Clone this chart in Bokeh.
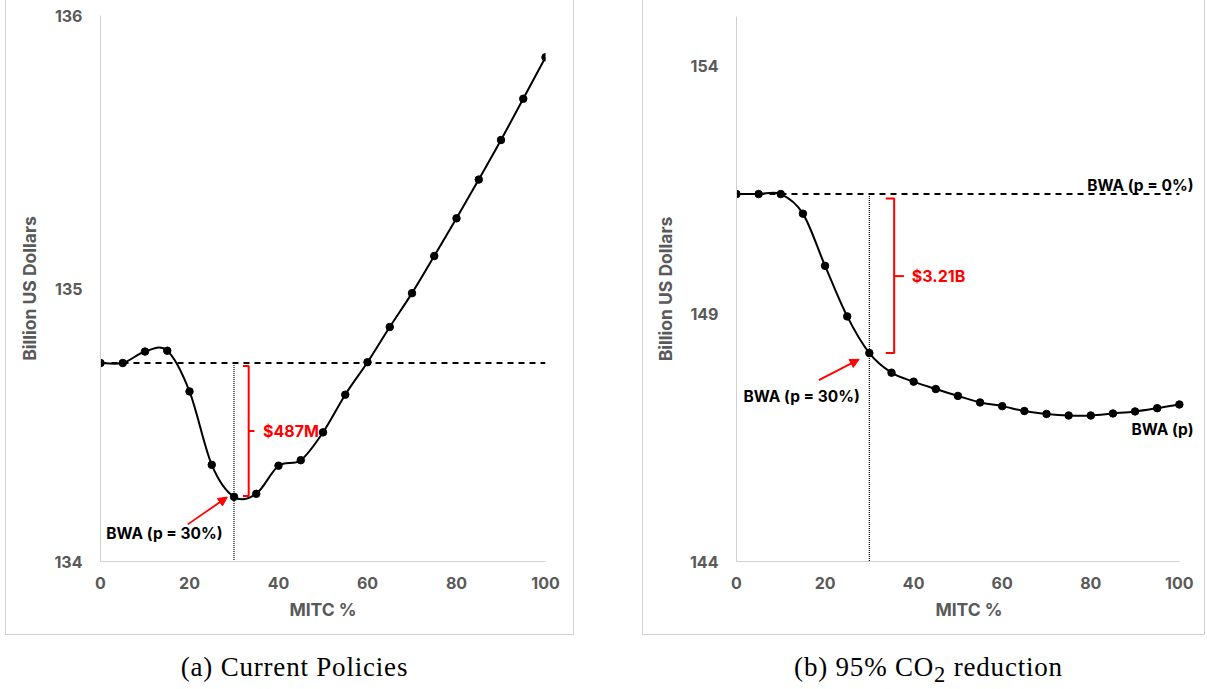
import numpy as np
from bokeh.plotting import figure
from bokeh.models import Label, Arrow, NormalHead, Div, Range1d
from bokeh.layouts import row, column
from bokeh.embed import file_html
from bokeh.resources import INLINE

# ---------------- data ----------------
mitc = [0, 5, 10, 15, 20, 25, 30, 35, 40, 45, 50, 55, 60, 65, 70, 75, 80, 85, 90, 95, 100]
cost_current = [134.727, 134.727, 134.769, 134.772, 134.623, 134.354, 134.237, 134.248, 134.351,
                134.371, 134.473, 134.611, 134.730, 134.859, 134.983, 135.119, 135.257, 135.399,
                135.544, 135.695, 135.847]
cost_95 = [151.416, 151.416, 151.416, 151.021, 149.967, 148.947, 148.206, 147.811, 147.630,
           147.481, 147.342, 147.210, 147.136, 147.037, 146.979, 146.947, 146.947, 146.988,
           147.029, 147.095, 147.169]
x_ticks = [0, 20, 40, 60, 80, 100]
y_ticks_a = [134, 135, 136]
y_ticks_b = [144, 149, 154]
p_star = 30
label_a = "$487M"
label_b = "$3.21B"

FONT = "Inter"
GRAY = "#595959"
RED = "#ff0000"


def smooth_segments(x, y):
    X = np.asarray(x, float)
    Y = np.asarray(y, float)
    xp = np.concatenate([[X[0]], X, [X[-1]]])
    yp = np.concatenate([[Y[0]], Y, [Y[-1]]])
    n = len(X)
    d = dict(x0=[], y0=[], x1=[], y1=[], cx0=[], cy0=[], cx1=[], cy1=[])
    for i in range(n - 1):
        k = i + 1
        d["x0"].append(xp[k]); d["y0"].append(yp[k])
        d["x1"].append(xp[k + 1]); d["y1"].append(yp[k + 1])
        d["cx0"].append(xp[k] + (xp[k + 1] - xp[k - 1]) / 6.0)
        d["cy0"].append(yp[k] + (yp[k + 1] - yp[k - 1]) / 6.0)
        d["cx1"].append(xp[k + 1] - (xp[k + 2] - xp[k]) / 6.0)
        d["cy1"].append(yp[k + 1] - (yp[k + 2] - yp[k]) / 6.0)
    return d


def make_panel(width, height, xr, yr, yticks, left, right, top, bottom):
    p = figure(width=width, height=height, output_backend="svg", toolbar_location=None,
               x_range=Range1d(*xr), y_range=Range1d(*yr),
               min_border_left=left, min_border_right=right,
               min_border_top=top, min_border_bottom=bottom,
               styles={"border": "1px solid #d0d0d0"})
    p.outline_line_color = None
    p.grid.visible = False
    p.xaxis.ticker = x_ticks
    p.xaxis.bounds = (mitc[0], mitc[-1])
    p.yaxis.ticker = yticks
    for ax in (p.xaxis, p.yaxis):
        ax.axis_line_color = "#d0d0d0"
        ax.axis_line_width = 1
        ax.major_tick_line_color = None
        ax.minor_tick_line_color = None
        ax.major_tick_out = 0
        ax.major_label_text_font = FONT
        ax.major_label_text_font_style = "bold"
        ax.major_label_text_font_size = "16px"
        ax.major_label_text_color = GRAY
        ax.axis_label_text_font = FONT
        ax.axis_label_text_font_style = "bold"
        ax.axis_label_text_font_size = "17.5px"
        ax.axis_label_text_color = GRAY
    p.xaxis.axis_label = "MITC %"
    p.yaxis.axis_label = "Billion US Dollars"
    p.xaxis.major_label_standoff = 15
    p.xaxis.axis_label_standoff = 7
    p.yaxis.major_label_standoff = 18
    p.yaxis.axis_label_standoff = 11
    return p


def draw_series(p, y, ymin):
    base = y[0]
    i30 = mitc.index(p_star)
    p.line([mitc[0], mitc[-1]], [base, base], line_color="black", line_width=2, line_dash="6 5")
    p.line([p_star, p_star], [base, ymin], line_color="black", line_width=1.2, line_dash="1 1")
    p.bezier(line_color="black", line_width=2, **smooth_segments(mitc, y))
    p.scatter(mitc, y, size=7.5, color="black")
    return base, y[i30]


# ---------------- panel (a) ----------------
pa = make_panel(569, 637, (0, 100), (134, 136), y_ticks_a, 94, 30, 16, 75)
base_a, v_a = draw_series(pa, cost_current, 134)
bx, bl, br = 33.3, 32.0, 34.6
top_a, bot_a = base_a - 0.011, v_a + 0.003
mid_a = (top_a + bot_a) / 2
pa.multi_line([[bl, bx, bx, bl], [bx, br]], [[top_a, top_a, bot_a, bot_a], [mid_a, mid_a]],
              line_color=RED, line_width=2)
pa.add_layout(Label(x=36.5, y=mid_a, text=label_a, text_color=RED, text_font=FONT,
                    text_font_style="bold", text_font_size="16px", text_baseline="middle"))
pa.add_layout(Arrow(end=NormalHead(size=9, fill_color=RED, line_color=RED),
                    x_start=19.6, y_start=134.136, x_end=28.5, y_end=134.236,
                    line_color=RED, line_width=1.8))
pa.add_layout(Label(x=1.3, y=134.104, text="BWA (p = 30%)", text_color="black", text_font=FONT,
                    text_font_style="bold", text_font_size="15.5px", text_baseline="middle"))

# ---------------- panel (b) ----------------
pb = make_panel(563, 637, (0, 105), (144, 155), y_ticks_b, 93, 5, 17, 75)
base_b, v_b = draw_series(pb, cost_95, 144)
bx, bl, br = 35.6, 33.7, 37.8
top_b, bot_b = base_b - 0.09, v_b + 0.0
mid_b = 149.76
pb.multi_line([[bl, bx, bx, bl], [bx, br]], [[top_b, top_b, bot_b, bot_b], [mid_b, mid_b]],
              line_color=RED, line_width=2)
pb.add_layout(Label(x=39.6, y=mid_b, text=label_b, text_color=RED, text_font=FONT,
                    text_font_style="bold", text_font_size="16px", text_baseline="middle"))
pb.add_layout(Arrow(end=NormalHead(size=9, fill_color=RED, line_color=RED),
                    x_start=18.6, y_start=147.66, x_end=27.7, y_end=148.08,
                    line_color=RED, line_width=1.8))
pb.add_layout(Label(x=1.6, y=147.33, text="BWA (p = 30%)", text_color="black", text_font=FONT,
                    text_font_style="bold", text_font_size="15.5px", text_baseline="middle"))
pb.add_layout(Label(x=103.2, y=151.59, text="BWA (p = 0%)", text_color="black", text_font=FONT,
                    text_font_style="bold", text_font_size="15.5px", text_baseline="middle",
                    text_align="right"))
pb.add_layout(Label(x=103.2, y=146.66, text="BWA (p)", text_color="black", text_font=FONT,
                    text_font_style="bold", text_font_size="15.5px", text_baseline="middle",
                    text_align="right"))

cap_style = {"font-family": "Liberation Serif, DejaVu Serif, serif", "font-size": "27px",
             "letter-spacing": "0.8px", "text-align": "center", "line-height": "54px",
             "color": "black"}
cap_a = Div(text="(a) Current Policies", width=569, height=50, styles=cap_style)
cap_b = Div(text="(b) 95% CO<sub>2</sub> reduction", width=563, height=50, styles=cap_style)

layout = row(column(pa, cap_a, spacing=0), column(pb, cap_b, spacing=0), spacing=58,
             styles={"margin-left": "5px", "margin-top": "-2px"})

open("out.html", "w").write(file_html(layout, INLINE))
